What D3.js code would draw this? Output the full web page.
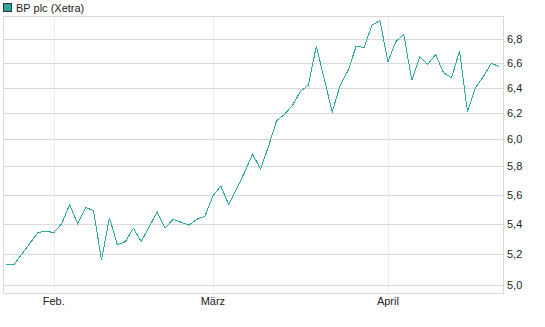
<!DOCTYPE html>
<html>
<head>
<meta charset="utf-8">
<title>BP plc (Xetra)</title>
<script src="https://cdn.jsdelivr.net/npm/d3@7"></script>
<style>
  body { margin: 0; background: #fff; }
  text { font-family: "Liberation Sans", Arial, sans-serif; font-size: 11px; fill: #222; }
</style>
</head>
<body>
<svg id="chart" width="545" height="327"></svg>
<script>
// trading days, Jan 23 - Apr 23
var dates = [
  "2015-01-23","2015-01-26","2015-01-27","2015-01-28","2015-01-29","2015-01-30",
  "2015-02-02","2015-02-03","2015-02-04","2015-02-05","2015-02-06",
  "2015-02-09","2015-02-10","2015-02-11","2015-02-12","2015-02-13",
  "2015-02-16","2015-02-17","2015-02-18","2015-02-19","2015-02-20",
  "2015-02-23","2015-02-24","2015-02-25","2015-02-26","2015-02-27",
  "2015-03-02","2015-03-03","2015-03-04","2015-03-05","2015-03-06",
  "2015-03-09","2015-03-10","2015-03-11","2015-03-12","2015-03-13",
  "2015-03-16","2015-03-17","2015-03-18","2015-03-19","2015-03-20",
  "2015-03-23","2015-03-24","2015-03-25","2015-03-26","2015-03-27",
  "2015-03-30","2015-03-31",
  "2015-04-01","2015-04-02","2015-04-07","2015-04-08","2015-04-09","2015-04-10",
  "2015-04-13","2015-04-14","2015-04-15","2015-04-16","2015-04-17",
  "2015-04-20","2015-04-21","2015-04-22","2015-04-23"
];
var prices = [
  5.13, 5.13, 5.20, 5.27, 5.34, 5.35,
  5.34, 5.40, 5.53, 5.40, 5.51,
  5.49, 5.16, 5.44, 5.26, 5.28,
  5.37, 5.28, 5.38, 5.48, 5.37,
  5.43, 5.41, 5.39, 5.43, 5.45,
  5.59, 5.66, 5.53, 5.64, 5.76,
  5.89, 5.78, 5.95, 6.14, 6.19,
  6.26, 6.37, 6.42, 6.74, 6.47,
  6.21, 6.42, 6.54, 6.74, 6.73,
  6.92, 6.96,
  6.61, 6.78, 6.84, 6.46, 6.65, 6.59,
  6.67, 6.52, 6.48, 6.70, 6.21,
  6.40, 6.49, 6.60, 6.57
];
var yTicks = [5.0, 5.2, 5.4, 5.6, 5.8, 6.0, 6.2, 6.4, 6.6, 6.8];
var monthTicks = ["2015-02-02", "2015-03-02", "2015-04-01"];
var monthLabels = ["Feb.", "März", "April"];
var seriesName = "BP plc (Xetra)";

var svg = d3.select("#chart");
var plotLeft = 3, plotRight = 503, plotTop = 16, plotBottom = 293;

var x = d3.scalePoint().domain(dates).range([6, 499.3]);
var y = d3.scaleLog().domain([4.952, 7.0]).range([plotBottom, plotTop]);

var de = d3.formatLocale({ decimal: ",", thousands: ".", grouping: [3], currency: ["", " €"] });
var fmt = de.format(".1f");

// vertical month lines
svg.append("g").selectAll("line").data(monthTicks).join("line")
  .attr("x1", function(d) { return Math.round(x(d)) + 0.5; })
  .attr("x2", function(d) { return Math.round(x(d)) + 0.5; })
  .attr("y1", plotTop).attr("y2", plotBottom)
  .attr("stroke", "#ececec").attr("stroke-width", 1);

// horizontal grid
svg.append("g").selectAll("line").data(yTicks).join("line")
  .attr("x1", plotLeft).attr("x2", plotRight)
  .attr("y1", function(d) { return Math.round(y(d)) + 0.5; })
  .attr("y2", function(d) { return Math.round(y(d)) + 0.5; })
  .attr("stroke", "#d9d9d9").attr("stroke-width", 1);

// frame
svg.append("rect")
  .attr("x", plotLeft + 0.5).attr("y", plotTop + 0.5)
  .attr("width", plotRight - plotLeft).attr("height", plotBottom - plotTop)
  .attr("fill", "none").attr("stroke", "#d9d9d9");

// y labels on the right
svg.append("g").selectAll("text").data(yTicks).join("text")
  .attr("x", 507)
  .attr("y", function(d) { return y(d) + 4; })
  .text(function(d) { return fmt(d); });

// month labels
svg.append("g").selectAll("text").data(monthTicks).join("text")
  .attr("x", function(d) { return x(d); })
  .attr("y", 305)
  .attr("text-anchor", "middle")
  .text(function(d, i) { return monthLabels[i]; });

// price line
var line = d3.line()
  .x(function(d, i) { return x(dates[i]); })
  .y(function(d) { return y(d); });

svg.append("path")
  .datum(prices)
  .attr("d", line)
  .attr("fill", "none")
  .attr("stroke", "#2ca8a0")
  .attr("stroke-width", 1)
  .attr("shape-rendering", "crispEdges");

// legend
svg.append("rect")
  .attr("x", 3.5).attr("y", 3.5).attr("width", 8).attr("height", 8)
  .attr("fill", "#2ca8a0").attr("stroke", "#333");
svg.append("text").attr("x", 16).attr("y", 12).text(seriesName);
</script>
</body>
</html>
